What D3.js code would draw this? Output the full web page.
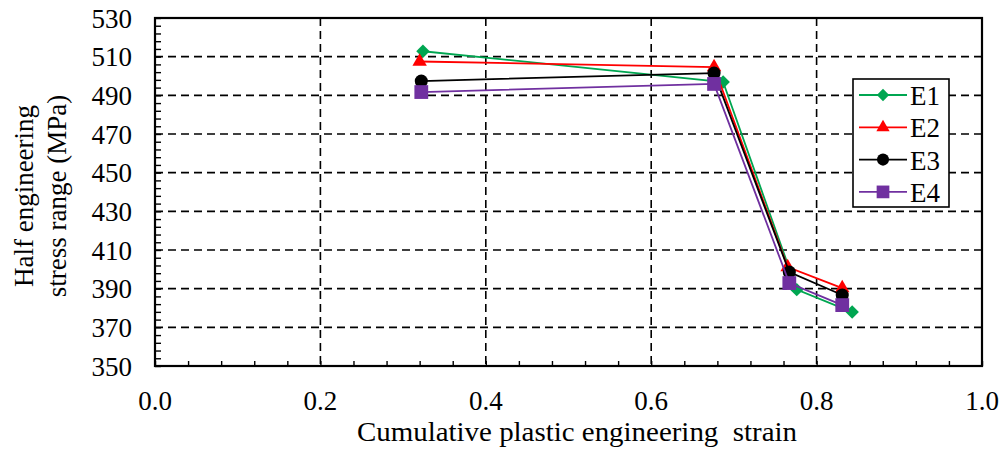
<!DOCTYPE html>
<html>
<head>
<meta charset="utf-8">
<script src="https://cdn.jsdelivr.net/npm/d3@7"></script>
<style>
  html, body { margin: 0; padding: 0; background: #fff; }
  text { font-family: "Liberation Serif", "Times New Roman", serif; fill: #000; }
</style>
</head>
<body>
<svg id="chart" width="1005" height="452"></svg>
<script>
// Cumulative plastic strain vs. half stress range for four specimens
const seriesNames = ["E1", "E2", "E3", "E4"];
const strainE1 = [0.324, 0.687, 0.776, 0.843];
const stressE1 = [512.8, 496.9, 389.5, 377.9];
const strainE2 = [0.320, 0.676, 0.765, 0.831];
const stressE2 = [507.5, 504.6, 401.2, 390.3];
const strainE3 = [0.322, 0.676, 0.767, 0.831];
const stressE3 = [497.4, 501.5, 398.6, 386.7];
const strainE4 = [0.322, 0.676, 0.767, 0.831];
const stressE4 = [491.7, 495.9, 392.9, 381.5];
const xTicks = [0.0, 0.2, 0.4, 0.6, 0.8, 1.0];
const yTicks = [350, 370, 390, 410, 430, 450, 470, 490, 510, 530];

const colors = ["#00a651", "#ff0000", "#000000", "#7030a0"];
// diamond = square turned 45 degrees
const shapes = [d3.symbolSquare, d3.symbolTriangle, d3.symbolCircle, d3.symbolSquare];
const symSizes = [90, 90, 135, 190];
const symRot = [45, 0, 0, 0];

const series = [
  { name: seriesNames[0], xs: strainE1, ys: stressE1 },
  { name: seriesNames[1], xs: strainE2, ys: stressE2 },
  { name: seriesNames[2], xs: strainE3, ys: stressE3 },
  { name: seriesNames[3], xs: strainE4, ys: stressE4 }
];

const svg = d3.select("#chart");
const plotL = 155, plotR = 982, plotT = 18, plotB = 366;
const fs = 27;

const x = d3.scaleLinear().domain([0, 1]).range([plotL, plotR]);
const y = d3.scaleLinear().domain([350, 530]).range([plotB, plotT]);

// dashed grid at major ticks
const grid = svg.append("g");
grid.selectAll("line.gx").data(xTicks.slice(1)).join("line")
  .attr("x1", d => x(d)).attr("x2", d => x(d))
  .attr("y1", plotT).attr("y2", plotB)
  .attr("stroke", "#000").attr("stroke-width", 1.6).attr("stroke-dasharray", "8,5");
grid.selectAll("line.gy").data(yTicks.slice(1)).join("line")
  .attr("x1", plotL).attr("x2", plotR)
  .attr("y1", d => y(d)).attr("y2", d => y(d))
  .attr("stroke", "#000").attr("stroke-width", 1.6).attr("stroke-dasharray", "8,5");

// axes with inward minor ticks
const xAxis = d3.axisBottom(x).tickValues(d3.range(0, 1.0001, 0.04)).tickSize(-5).tickFormat("");
svg.append("g").attr("transform", `translate(0,${plotB})`).call(xAxis)
  .call(g => g.select(".domain").remove())
  .call(g => g.selectAll("line").attr("stroke", "#000").attr("stroke-width", 1.4));
const yAxis = d3.axisLeft(y).tickValues(d3.range(350, 530.01, 4)).tickSize(-6).tickFormat("");
svg.append("g").attr("transform", `translate(${plotL},0)`).call(yAxis)
  .call(g => g.select(".domain").remove())
  .call(g => g.selectAll("line").attr("stroke", "#000").attr("stroke-width", 1.4));

// frame
svg.append("rect").attr("x", plotL).attr("y", plotT)
  .attr("width", plotR - plotL).attr("height", plotB - plotT)
  .attr("fill", "none").attr("stroke", "#000").attr("stroke-width", 2.2);

// tick labels
svg.selectAll("text.xt").data(xTicks).join("text")
  .attr("x", d => x(d)).attr("y", 410)
  .attr("text-anchor", "middle").attr("font-size", fs)
  .text(d => d.toFixed(1));
svg.selectAll("text.yt").data(yTicks).join("text")
  .attr("x", 132).attr("y", d => y(d) + 9.5)
  .attr("text-anchor", "end").attr("font-size", fs)
  .text(d => d);

// axis titles
svg.append("text").attr("x", 357).attr("y", 441)
  .attr("font-size", fs)
  .attr("textLength", 440).attr("lengthAdjust", "spacingAndGlyphs")
  .style("white-space", "pre")
  .text("Cumulative plastic engineering  strain");
const yt = svg.append("text").attr("transform", "translate(0,196) rotate(-90)")
  .attr("text-anchor", "middle").attr("font-size", fs);
yt.append("tspan").attr("x", 0).attr("y", 33).text("Half engineering");
yt.append("tspan").attr("x", 0).attr("y", 66).text("stress range (MPa)");

// series lines and markers
const line = d3.line().x(d => x(d[0])).y(d => y(d[1]));
series.forEach((s, i) => {
  const pts = s.xs.map((v, k) => [v, s.ys[k]]);
  svg.append("path").datum(pts).attr("d", line)
    .attr("fill", "none").attr("stroke", colors[i]).attr("stroke-width", 1.8);
  svg.append("g").selectAll("path").data(pts).join("path")
    .attr("transform", d => `translate(${x(d[0])},${y(d[1])}) rotate(${symRot[i]})`)
    .attr("d", d3.symbol().type(shapes[i]).size(symSizes[i]))
    .attr("fill", colors[i]);
});

// legend
const lg = svg.append("g");
lg.append("rect").attr("x", 853).attr("y", 79).attr("width", 96).attr("height", 128)
  .attr("fill", "#fff").attr("stroke", "#000").attr("stroke-width", 1.6);
series.forEach((s, i) => {
  const cy = 95 + i * 32.3;
  lg.append("line").attr("x1", 859).attr("x2", 907).attr("y1", cy).attr("y2", cy)
    .attr("stroke", colors[i]).attr("stroke-width", 1.8);
  lg.append("path").attr("transform", `translate(883,${cy}) rotate(${symRot[i]})`)
    .attr("d", d3.symbol().type(shapes[i]).size(symSizes[i] * 0.85)).attr("fill", colors[i]);
  lg.append("text").attr("x", 910).attr("y", cy + 10).attr("font-size", fs).text(s.name);
});
</script>
</body>
</html>
